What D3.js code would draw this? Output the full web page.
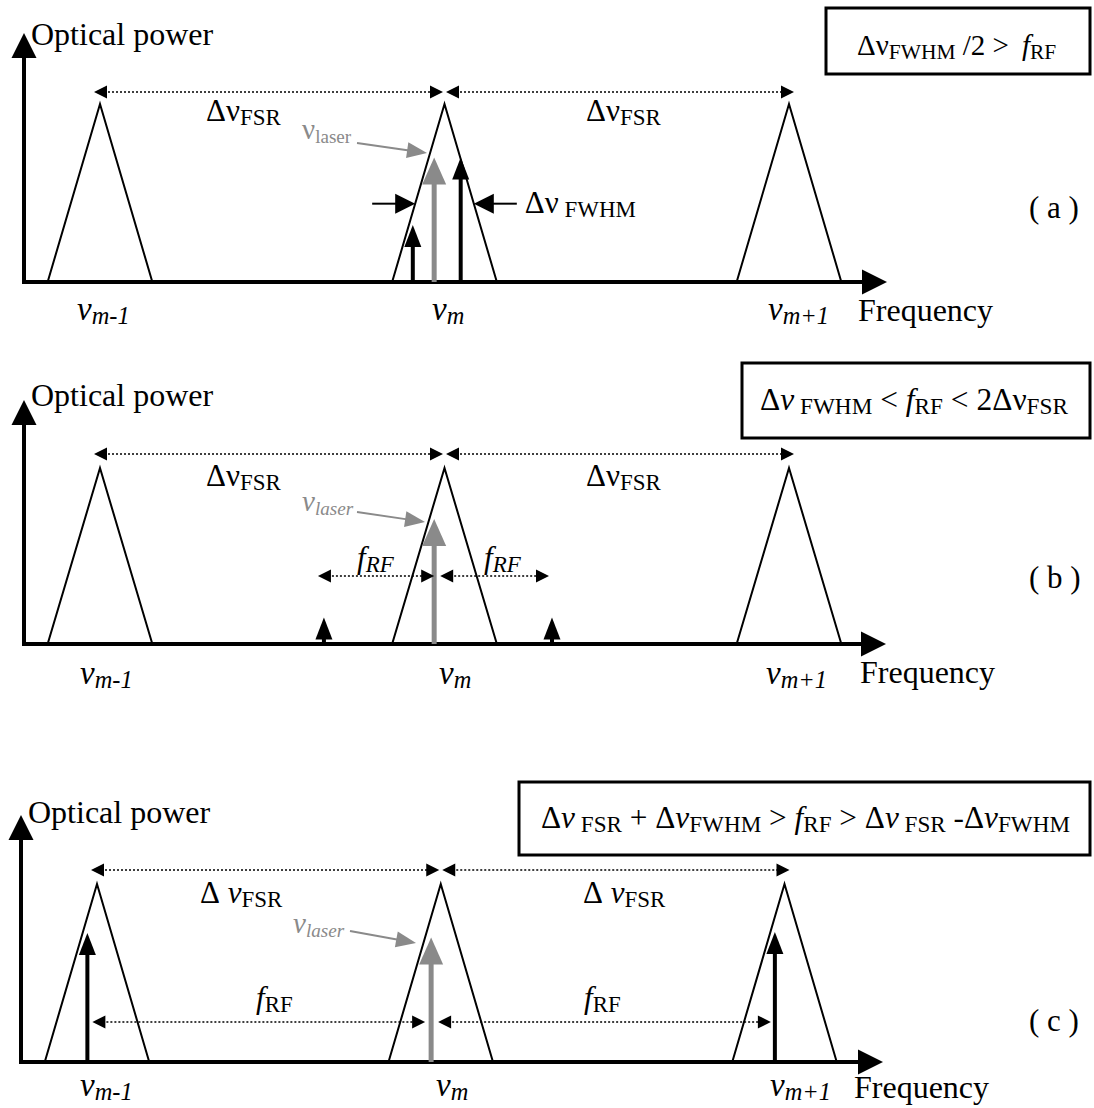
<!DOCTYPE html>
<html>
<head>
<meta charset="utf-8">
<script src="https://cdn.jsdelivr.net/npm/d3@7"></script>
<style>
  body { margin: 0; background: #fff; }
  text { font-family: "Liberation Serif", "Times New Roman", serif; }
</style>
</head>
<body>
<svg id="fig" width="1094" height="1108"></svg>
<script>
// ---- data -------------------------------------------------------------
// Cavity resonances, frequency in units of the free spectral range (FSR)
const modeOrders = [-1, 0, 1];
const modeNames = ["m-1", "m", "m+1"];
const modeHalfBase = 0.152;          // half width of a resonance at its foot
const modePeak = 1;                  // normalised transmission peak

const panelIds = ["a", "b", "c"];
const laserOffsets = [-0.030, -0.030, -0.028];   // laser line position
const laserPowers = [0.70, 0.71, 0.70];

// modulation sidebands: positions and heights for each panel
const sidebandPos = [[-0.092, 0.047], [-0.350, 0.312], [-1.028, 0.972]];
const sidebandPow = [[0.32, 0.70], [0.15, 0.15], [0.725, 0.73]];

const fwhmLevel = 0.44;              // height at which the linewidth is marked
const rfArrowLevel = [null, 0.386, 0.225];

// condition written in the box of each panel
const conditions = [
  [{t: "Δν"}, {t: "FWHM", sub: 1}, {t: "\u00a0/2 > "}, {t: "\u2009f", it: 1}, {t: "RF", sub: 1}],
  [{t: "Δ"}, {t: "ν", it: 1}, {t: "\u00a0FWHM", sub: 1}, {t: " < "}, {t: "f", it: 1}, {t: "RF", sub: 1},
   {t: " < 2Δν"}, {t: "FSR", sub: 1}],
  [{t: "Δ"}, {t: "ν", it: 1}, {t: "\u00a0FSR", sub: 1}, {t: " + Δ"}, {t: "ν", it: 1}, {t: "FWHM", sub: 1},
   {t: " > "}, {t: "f", it: 1}, {t: "RF", sub: 1}, {t: " > Δ"}, {t: "ν", it: 1}, {t: "\u00a0FSR", sub: 1},
   {t: " -Δ"}, {t: "ν", it: 1}, {t: "FWHM", sub: 1}]
];
const fsrLabels = [
  [{t: "Δν"}, {t: "FSR", sub: 1}],
  [{t: "Δν"}, {t: "FSR", sub: 1}],
  [{t: "Δ\u00a0"}, {t: "ν", it: 1}, {t: "FSR", sub: 1}]
];
const laserLabels = [
  [{t: "ν"}, {t: "laser", sub: 1}],
  [{t: "ν", it: 1}, {t: "laser", sub: 1, it: 1}],
  [{t: "ν", it: 1}, {t: "laser", sub: 1, it: 1}]
];
const rfLabels = [
  null,
  [{t: "f", it: 1}, {t: "RF", sub: 1, it: 1}],
  [{t: "f", it: 1}, {t: "RF", sub: 1}]
];
const yAxisTitle = "Optical power";
const xAxisTitle = "Frequency";

// ---- layout -----------------------------------------------------------
const layout = [
  {axisX: 24, baseY: 282, tipY: 33, endX: 887, xr: [100, 789], apexY: 104,
   box: [826, 8, 264, 66], boxText: [857, 55, null, 29], fsrY: 92, fsrText: [[206, 121], [586, 121]],
   laserText: [302, 139], pointer: [[357, 143], [427, 153]], tagY: 218, modeY: 320,
   modeX: [77, 432, 768], freq: [858, 321], title: [31, 45]},
  {axisX: 24, baseY: 644, tipY: 400, endX: 886, xr: [100, 789], apexY: 468,
   box: [742, 363, 348, 75], boxText: [760, 410, 308, 31], fsrY: 454, fsrText: [[206, 486], [586, 486]],
   laserText: [302, 511], pointer: [[357, 512], [425, 522]], tagY: 588, modeY: 684,
   modeX: [80, 439, 766], freq: [860, 683], title: [31, 406],
   rfText: [[357, 568], [484, 568]]},
  {axisX: 21, baseY: 1062, tipY: 815, endX: 883, xr: [97, 784.5], apexY: 884,
   box: [519, 782, 571, 73], boxText: [541, 828, 529, 31], fsrY: 870, fsrText: [[200, 903], [583, 903]],
   laserText: [293, 933], pointer: [[350, 931], [416, 943]], tagY: 1031, modeY: 1096,
   modeX: [80, 436, 770], freq: [854, 1098], title: [28, 823],
   rfText: [[256, 1008], [584, 1008]]}
];
const GREY = "#8a8a8a";
const FS = 31;

const svg = d3.select("#fig");

// text with sub-scripted parts
function rich(g, x, y, parts, size, fill, width, subScale) {
  const t = g.append("text").attr("x", x).attr("y", y)
    .attr("font-size", size).attr("fill", fill || "#000")
    .style("white-space", "pre");
  if (width) t.attr("textLength", width).attr("lengthAdjust", "spacingAndGlyphs");
  let shift = 0;
  parts.forEach(p => {
    const target = p.sub ? size * 0.13 : 0;
    t.append("tspan").text(p.t)
      .attr("dy", target - shift)
      .attr("font-size", p.sub ? size * (subScale || 0.74) : size)
      .attr("font-style", p.it ? "italic" : "normal");
    shift = target;
  });
  return t;
}

// filled triangular head; (tx,ty) tip, (dx,dy) unit direction of travel
function head(g, tx, ty, dx, dy, len, half, fill) {
  const bx = tx - dx * len, by = ty - dy * len;
  const px = -dy * half, py = dx * half;
  g.append("path")
    .attr("d", d3.line()([[tx, ty], [bx + px, by + py], [bx - px, by - py]]) + "Z")
    .attr("fill", fill || "#000");
}

// horizontal dotted dimension arrow with heads at both ends
function dimArrow(g, x1, x2, y) {
  g.append("line").attr("x1", x1 + 10).attr("x2", x2 - 10).attr("y1", y).attr("y2", y)
    .attr("stroke", "#000").attr("stroke-width", 1.6).attr("stroke-dasharray", "2,2");
  head(g, x1, y, -1, 0, 13, 6.5);
  head(g, x2, y, 1, 0, 13, 6.5);
}

panelIds.forEach((id, i) => {
  const L = layout[i];
  const g = svg.append("g").attr("class", "panel-" + id);
  const x = d3.scaleLinear().domain([-1, 1]).range(L.xr);
  const y = d3.scaleLinear().domain([0, modePeak]).range([L.baseY, L.apexY]);

  // condition box
  g.append("rect").attr("x", L.box[0]).attr("y", L.box[1])
    .attr("width", L.box[2]).attr("height", L.box[3])
    .attr("fill", "none").attr("stroke", "#000").attr("stroke-width", 3);
  rich(g, L.boxText[0], L.boxText[1], conditions[i], L.boxText[3], null, L.boxText[2]);

  // cavity resonances
  g.selectAll("path.mode").data(modeOrders).join("path").attr("class", "mode")
    .attr("d", m => d3.line()([[x(m - modeHalfBase), y(0)], [x(m), y(modePeak)], [x(m + modeHalfBase), y(0)]]))
    .attr("fill", "none").attr("stroke", "#000").attr("stroke-width", 2)
    .attr("stroke-linejoin", "miter");

  // axes
  g.append("line").attr("x1", L.axisX).attr("x2", L.axisX)
    .attr("y1", L.baseY + 2).attr("y2", L.tipY + 20)
    .attr("stroke", "#000").attr("stroke-width", 4);
  head(g, L.axisX, L.tipY, 0, -1, 25, 12.5);
  g.append("line").attr("x1", L.axisX - 2).attr("x2", L.endX - 20)
    .attr("y1", L.baseY).attr("y2", L.baseY)
    .attr("stroke", "#000").attr("stroke-width", 4);
  head(g, L.endX, L.baseY, 1, 0, 25, 12.5);
  g.append("text").attr("x", L.title[0]).attr("y", L.title[1])
    .attr("font-size", 32).text(yAxisTitle);
  g.append("text").attr("x", L.freq[0]).attr("y", L.freq[1])
    .attr("font-size", 32).text(xAxisTitle);
  g.append("text").attr("x", 1029).attr("y", L.tagY).attr("font-size", FS)
    .style("white-space", "pre").text("( " + id + " )");

  // mode labels
  modeOrders.forEach((m, k) => {
    rich(g, L.modeX[k], L.modeY, [{t: "ν", it: 1}, {t: modeNames[k], sub: 1, it: 1}], 33);
  });

  // free spectral range markers
  dimArrow(g, x(-1) - 6, x(0) - 1.5, L.fsrY);
  dimArrow(g, x(0) + 1.5, x(1) + 5, L.fsrY);
  L.fsrText.forEach(p => rich(g, p[0], p[1], fsrLabels[i], FS));

  // sidebands (black) and laser line (grey)
  sidebandPos[i].forEach((s, k) => {
    const p = sidebandPow[i][k];
    const top = y(p);
    const hl = Math.min(22, L.baseY - top);
    if (L.baseY - top > hl) {
      g.append("line").attr("x1", x(s)).attr("x2", x(s))
        .attr("y1", L.baseY).attr("y2", top + hl - 2)
        .attr("stroke", "#000").attr("stroke-width", 4);
    }
    head(g, x(s), top, 0, -1, hl, 8.5);
  });
  const lx = x(laserOffsets[i]), ly = y(laserPowers[i]);
  g.append("line").attr("x1", lx).attr("x2", lx).attr("y1", L.baseY).attr("y2", ly + 24)
    .attr("stroke", GREY).attr("stroke-width", 5);
  head(g, lx, ly, 0, -1, 27, 12, GREY);

  // laser label and pointer
  rich(g, L.laserText[0], L.laserText[1], laserLabels[i], 29, GREY, null, 0.66);
  const [p0, p1] = L.pointer;
  const len = Math.hypot(p1[0] - p0[0], p1[1] - p0[1]);
  const ux = (p1[0] - p0[0]) / len, uy = (p1[1] - p0[1]) / len;
  g.append("line").attr("x1", p0[0]).attr("y1", p0[1])
    .attr("x2", p1[0] - ux * 18).attr("y2", p1[1] - uy * 18)
    .attr("stroke", GREY).attr("stroke-width", 2);
  head(g, p1[0], p1[1], ux, uy, 20, 8, GREY);

  // panel specific annotations
  if (id === "a") {
    const hw = modeHalfBase * (1 - fwhmLevel);
    const fy = y(fwhmLevel);
    const xl = x(-hw), xr = x(hw);
    g.append("line").attr("x1", xl - 43).attr("x2", xl - 16).attr("y1", fy).attr("y2", fy)
      .attr("stroke", "#000").attr("stroke-width", 2);
    head(g, xl, fy, 1, 0, 20, 10);
    g.append("line").attr("x1", xr + 16).attr("x2", xr + 43).attr("y1", fy).attr("y2", fy)
      .attr("stroke", "#000").attr("stroke-width", 2);
    head(g, xr, fy, -1, 0, 20, 10);
    rich(g, xr + 51, fy + 9, [{t: "Δν"}, {t: "\u00a0FWHM", sub: 1}], FS);
  } else {
    const ry = y(rfArrowLevel[i]);
    const [s0, s1] = sidebandPos[i];
    if (id === "b") {
      dimArrow(g, x(s0) - 6, lx, ry);
      dimArrow(g, lx + 6, x(s1) - 3, ry);
    } else {
      dimArrow(g, x(s0) + 5, lx - 6, ry);
      dimArrow(g, lx + 7, x(s1) - 4, ry);
    }
    L.rfText.forEach(p => rich(g, p[0], p[1], rfLabels[i], FS));
  }
});
</script>
</body>
</html>
